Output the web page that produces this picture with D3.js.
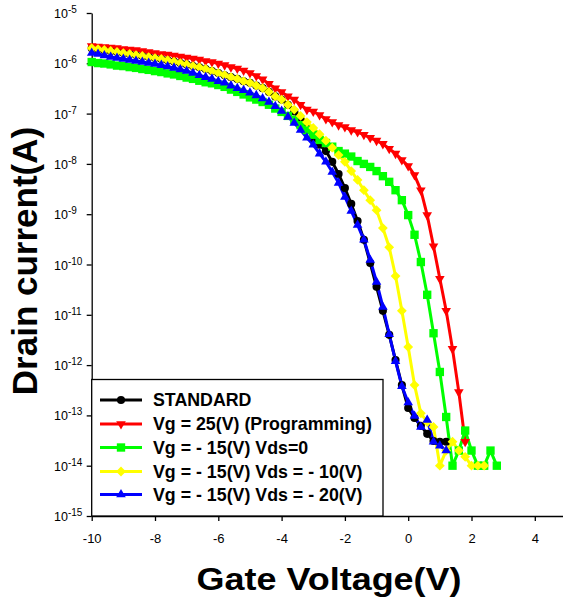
<!DOCTYPE html>
<html><head><meta charset="utf-8">
<script src="https://cdn.jsdelivr.net/npm/d3@7"></script>
<style>
body{margin:0;background:#fff}
svg{display:block}
text{font-family:"Liberation Sans",Arial,sans-serif;fill:#000}
</style>
</head><body>
<svg id="chart" width="563" height="600"></svg>
<script>
// ---------------- data ----------------
const gateVoltage = [-10,-9.8,-9.6,-9.4,-9.2,-9,-8.8,-8.6,-8.4,-8.2,-8,-7.8,-7.6,-7.4,-7.2,-7,-6.8,-6.6,-6.4,-6.2,
  -6,-5.8,-5.6,-5.4,-5.2,-5,-4.8,-4.6,-4.4,-4.2,-4,-3.8,-3.6,-3.4,-3.2,-3,-2.8,-2.6,-2.4,-2.2,
  -2,-1.8,-1.6,-1.4,-1.2,-1,-0.8,-0.6,-0.4,-0.2,0,0.2,0.4,0.6,0.8,1,1.2,1.4,1.6,1.8,2,2.2,2.4,2.6,2.8];

const standardCurrent = [2.0e-6,1.92e-6,1.84e-6,1.76e-6,1.68e-6,1.60e-6,1.53e-6,1.46e-6,1.40e-6,1.33e-6,
  1.27e-6,1.22e-6,1.15e-6,1.08e-6,1.01e-6,9.5e-7,8.8e-7,8.3e-7,7.7e-7,7.0e-7,
  6.4e-7,5.8e-7,5.3e-7,4.9e-7,4.4e-7,4.1e-7,3.6e-7,3.2e-7,2.7e-7,2.2e-7,1.9e-7,1.5e-7,
  1.1e-7,7.5e-8,4.9e-8,3.3e-8,2.4e-8,1.8e-8,1.1e-8,6.3e-9,3.3e-9,1.6e-9,7.3e-10,3.1e-10,1.07e-10,
  3.6e-11,1.2e-11,4.0e-12,1.26e-12,4.0e-13,1.4e-13,8.9e-14,6.2e-14,4.3e-14,3.1e-14,3.0e-14,3.0e-14];

const programmingCurrent = [2.2e-6,2.16e-6,2.11e-6,2.06e-6,2.01e-6,1.92e-6,1.88e-6,1.84e-6,1.76e-6,1.68e-6,
  1.60e-6,1.53e-6,1.50e-6,1.43e-6,1.36e-6,1.30e-6,1.24e-6,1.19e-6,1.11e-6,1.06e-6,
  9.9e-7,9.2e-7,8.4e-7,7.9e-7,7.2e-7,6.4e-7,5.6e-7,4.8e-7,3.9e-7,3.2e-7,
  2.7e-7,2.2e-7,1.9e-7,1.5e-7,1.2e-7,1.1e-7,9.4e-8,7.8e-8,6.8e-8,5.9e-8,
  5.4e-8,4.7e-8,4.3e-8,3.8e-8,3.3e-8,2.9e-8,2.5e-8,2.0e-8,1.6e-8,1.2e-8,
  9.1e-9,6.0e-9,3.0e-9,9.6e-10,2.3e-10,5.2e-11,1.2e-11,2.1e-12,2.9e-13,3.0e-14];

const vdsZeroCurrent = [1.06e-6,1.01e-6,9.9e-7,9.5e-7,9.0e-7,8.8e-7,8.4e-7,8.1e-7,7.7e-7,7.4e-7,
  7.0e-7,6.7e-7,6.3e-7,6.0e-7,5.6e-7,5.2e-7,4.9e-7,4.5e-7,4.2e-7,4.0e-7,
  3.7e-7,3.4e-7,3.0e-7,2.7e-7,2.4e-7,2.1e-7,1.9e-7,1.7e-7,1.5e-7,1.26e-7,
  1.08e-7,9.0e-8,7.5e-8,5.9e-8,4.7e-8,3.8e-8,3.0e-8,2.6e-8,2.2e-8,1.8e-8,
  1.6e-8,1.4e-8,1.14e-8,1.0e-8,8.7e-9,7.2e-9,5.7e-9,4.4e-9,3.0e-9,1.9e-9,
  9.6e-10,3.9e-10,1.12e-10,2.5e-11,4.3e-12,7.3e-13,9.3e-14,1e-14,2e-14,5e-14,
  2e-14,1e-14,1e-14,2e-14,1e-14];

const vdsMinus10Current = [2.0e-6,1.92e-6,1.84e-6,1.76e-6,1.68e-6,1.60e-6,1.53e-6,1.46e-6,1.40e-6,1.33e-6,
  1.27e-6,1.22e-6,1.15e-6,1.08e-6,1.01e-6,9.5e-7,8.8e-7,8.3e-7,7.7e-7,7.0e-7,
  6.4e-7,5.8e-7,5.3e-7,4.9e-7,4.4e-7,4.1e-7,3.6e-7,3.2e-7,2.7e-7,2.2e-7,
  1.9e-7,1.5e-7,1.2e-7,9.0e-8,6.8e-8,5.2e-8,3.9e-8,2.9e-8,2.1e-8,1.5e-8,
  1.1e-8,7.2e-9,4.8e-9,3.0e-9,1.9e-9,1.2e-9,5.3e-10,2.2e-10,5.9e-11,1.2e-11,
  2.3e-12,4.0e-13,1.1e-13,7.4e-14,5.9e-14,1e-14,2e-14,3e-14,2e-14,1.5e-14,
  1e-14,1e-14,1e-14];

const vdsMinus20Current = [1.60e-6,1.53e-6,1.43e-6,1.33e-6,1.27e-6,1.22e-6,1.16e-6,1.11e-6,1.06e-6,1.01e-6,
  9.7e-7,9.2e-7,8.6e-7,8.1e-7,7.5e-7,7.0e-7,6.4e-7,5.8e-7,5.3e-7,4.9e-7,
  4.4e-7,4.1e-7,3.6e-7,3.2e-7,2.9e-7,2.6e-7,2.3e-7,2.0e-7,1.7e-7,1.4e-7,
  1.13e-7,8.6e-8,6.5e-8,4.7e-8,3.3e-8,2.4e-8,1.6e-8,1.1e-8,6.9e-9,4.2e-9,
  2.2e-9,1.16e-9,6.1e-10,3.1e-10,1.23e-10,4.5e-11,1.43e-11,4.1e-12,1.2e-12,3.8e-13,
  1.8e-13,9.7e-14,5.9e-14,8.1e-14,3.0e-14,2.5e-14,2.0e-14];

const seriesNames = ["STANDARD","Vg = 25(V) (Programming)","Vg = - 15(V) Vds=0",
  "Vg = - 15(V) Vds = - 10(V)","Vg = - 15(V) Vds = - 20(V)"];
const xTickValues = [-10,-8,-6,-4,-2,0,2,4];
const yTickExponents = [-5,-6,-7,-8,-9,-10,-11,-12,-13,-14,-15];

// ---------------- chart ----------------
const svg = d3.select("#chart");
const x = d3.scaleLinear().domain([-10, 6]).range([91.7, 598.1]);
const y = d3.scaleLog().domain([1e-15, 1e-5]).range([516, 13]);

const styles = [
  {color:"#000000", sym:d3.symbolCircle, size:52, rot:0},
  {color:"#ff0000", sym:d3.symbolTriangle, size:40, rot:180},
  {color:"#00ff00", sym:d3.symbolSquare, size:70, rot:0},
  {color:"#ffff00", sym:d3.symbolSquare, size:48, rot:45},
  {color:"#0000ff", sym:d3.symbolTriangle, size:40, rot:0}
];
const allSeries = [standardCurrent, programmingCurrent, vdsZeroCurrent, vdsMinus10Current, vdsMinus20Current]
  .map((vals, i) => ({name: seriesNames[i], style: styles[i],
    points: vals.map((v, j) => ({v: gateVoltage[j], i: v}))}));

// axes
const yAxis = d3.axisLeft(y).tickValues(yTickExponents.map(e => Math.pow(10, e)))
  .tickSize(5).tickSizeOuter(0).tickFormat("");
const gy = svg.append("g").attr("transform", "translate(91.7,0)").call(yAxis);
gy.select(".domain").attr("stroke-width", 1.3);
gy.selectAll(".tick line").attr("stroke-width", 1.3);

const xAxis = d3.axisBottom(x).tickValues(xTickValues).tickSize(5).tickSizeOuter(0)
  .tickPadding(13).tickFormat(d => String(d));
const gx = svg.append("g").attr("transform", "translate(0,516)").call(xAxis);
gx.select(".domain").attr("stroke-width", 1.3);
gx.selectAll(".tick line").attr("stroke-width", 1.3);
gx.selectAll(".tick text").attr("font-size", 13).attr("font-family", '"Liberation Sans",Arial,sans-serif').attr("fill","#000");

// y tick labels 10^n
yTickExponents.forEach(e => {
  const t = svg.append("text").attr("x", 54).attr("y", y(Math.pow(10, e)) + 5)
    .attr("font-size", 12.5);
  t.append("tspan").text("10");
  t.append("tspan").attr("font-size", 10).attr("dy", -5).text(e);
});

// axis titles
svg.append("text").attr("x", 329).attr("y", 590).attr("text-anchor", "middle")
  .attr("font-size", 32).attr("font-weight", "bold")
  .attr("textLength", 265).attr("lengthAdjust", "spacingAndGlyphs")
  .text("Gate Voltage(V)");
svg.append("text").attr("transform", "translate(37,261) rotate(-90)")
  .attr("text-anchor", "middle").attr("font-size", 35).attr("font-weight", "bold")
  .text("Drain current(A)");

// curves: lines first, then symbols
const line = d3.line().x(d => x(d.v)).y(d => y(d.i));
const plot = svg.append("g");
allSeries.forEach(s => {
  plot.append("path").datum(s.points).attr("d", line).attr("fill", "none")
    .attr("stroke", s.style.color).attr("stroke-width", 3).attr("stroke-linejoin", "round");
});
allSeries.forEach(s => {
  const sym = d3.symbol().type(s.style.sym).size(s.style.size);
  plot.append("g").selectAll("path").data(s.points).join("path")
    .attr("d", sym)
    .attr("transform", d => `translate(${x(d.v)},${y(d.i)}) rotate(${s.style.rot})`)
    .attr("fill", s.style.color);
});

// legend
const lg = svg.append("g");
lg.append("rect").attr("x", 91.7).attr("y", 379.5).attr("width", 291.3).attr("height", 136.5)
  .attr("fill", "#fff").attr("stroke", "#000").attr("stroke-width", 1.3);
const rowY = [400, 424, 447.5, 471.5, 494.5];
allSeries.forEach((s, i) => {
  const yy = rowY[i];
  lg.append("line").attr("x1", 100).attr("x2", 142).attr("y1", yy).attr("y2", yy)
    .attr("stroke", s.style.color).attr("stroke-width", 3);
  lg.append("path").attr("d", d3.symbol().type(s.style.sym).size(s.style.size)())
    .attr("transform", `translate(121,${yy}) rotate(${s.style.rot})`).attr("fill", s.style.color);
  lg.append("text").attr("x", 153).attr("y", yy + 6.2).attr("font-size", 17.8)
    .attr("font-weight", "bold").text(s.name);
});
</script>
</body></html>
